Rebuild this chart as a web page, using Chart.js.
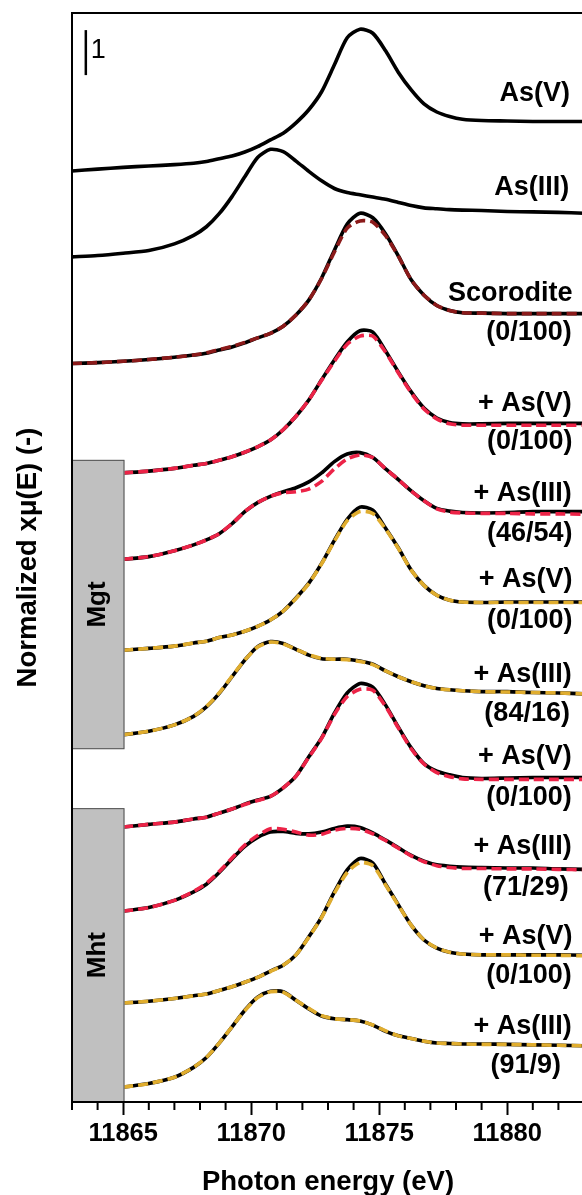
<!DOCTYPE html>
<html>
<head>
<meta charset="utf-8">
<title>As K-edge XANES</title>
<script src="https://cdn.jsdelivr.net/npm/chart.js@4.4.0/dist/chart.umd.min.js"></script>
<style>
  html, body { margin: 0; padding: 0; overflow: hidden; background: #fff; }
  #wrap { width: 584px; height: 1205px; }
</style>
</head>
<body>
<div id="wrap"><canvas id="xanes"></canvas></div>
<script>
// photon energy grid (eV)
const energy = [11863, 11864, 11865, 11866, 11867, 11867.75, 11868.25, 11868.75, 11869.25, 11869.75,
  11870.25, 11870.75, 11871.25, 11871.75, 11872.25, 11872.75, 11873.25, 11873.75, 11874.25, 11874.75,
  11875.25, 11875.75, 11876.25, 11876.75, 11877.25, 11877.75, 11878.25, 11879, 11880, 11881,
  11882, 11883, 11884];

// reference spectra (normalized, before stacking)
const asVStd = [0.00, 0.04, 0.08, 0.11, 0.14, 0.17, 0.21, 0.27, 0.33, 0.42, 0.54, 0.69, 0.84, 1.07, 1.36, 1.76,
  2.36, 2.96, 3.15, 3.06, 2.67, 2.19, 1.80, 1.49, 1.31, 1.21, 1.15, 1.12, 1.11, 1.10, 1.10, 1.10, 1.09];
const asIIIStd = [0.00, 0.03, 0.08, 0.14, 0.29, 0.48, 0.67, 0.96, 1.34, 1.78, 2.21, 2.39, 2.34, 2.13, 1.90, 1.69,
  1.52, 1.43, 1.38, 1.33, 1.28, 1.21, 1.14, 1.09, 1.07, 1.05, 1.04, 1.03, 1.01, 1.00, 0.99, 0.97, 0.96];
const scorodite = [0.00, 0.02, 0.05, 0.09, 0.14, 0.19, 0.23, 0.30, 0.37, 0.46, 0.57, 0.67, 0.83, 1.08, 1.41, 1.90,
  2.52, 3.10, 3.34, 3.24, 2.88, 2.39, 1.86, 1.52, 1.29, 1.18, 1.13, 1.12, 1.11, 1.11, 1.11, 1.11, 1.10];
const scoroditeFit = [0.00, 0.02, 0.05, 0.09, 0.14, 0.19, 0.24, 0.31, 0.38, 0.47, 0.57, 0.67, 0.83, 1.08, 1.41, 1.89,
  2.48, 3.01, 3.17, 3.14, 2.84, 2.38, 1.86, 1.52, 1.29, 1.18, 1.13, 1.12, 1.11, 1.11, 1.11, 1.11, 1.10];

// magnetite samples
const mgtA_AsV = [null, null, 0.00, 0.04, 0.10, 0.17, 0.21, 0.28, 0.36, 0.46, 0.58, 0.73, 0.96, 1.26, 1.62, 2.07,
  2.51, 2.91, 3.16, 3.13, 2.71, 2.24, 1.80, 1.44, 1.22, 1.12, 1.09, 1.09, 1.10, 1.10, 1.10, 1.10, 1.10];
const mgtA_AsVFit = [null, null, 0.00, 0.04, 0.10, 0.17, 0.21, 0.28, 0.36, 0.46, 0.58, 0.73, 0.96, 1.26, 1.62, 2.06,
  2.48, 2.86, 3.04, 3.04, 2.68, 2.22, 1.78, 1.42, 1.20, 1.09, 1.06, 1.06, 1.06, 1.06, 1.06, 1.06, 1.06];
const mgtA_AsIII = [null, null, 0.00, 0.06, 0.19, 0.32, 0.43, 0.57, 0.79, 1.06, 1.26, 1.40, 1.50, 1.59, 1.72, 1.92,
  2.17, 2.34, 2.37, 2.26, 2.01, 1.77, 1.52, 1.30, 1.13, 1.07, 1.04, 1.03, 1.04, 1.06, 1.06, 1.06, 1.06];
const mgtA_AsIIIFit = [null, null, 0.00, 0.06, 0.19, 0.32, 0.43, 0.57, 0.79, 1.06, 1.26, 1.40, 1.48, 1.50, 1.56, 1.73,
  2.01, 2.23, 2.32, 2.26, 2.01, 1.77, 1.52, 1.30, 1.12, 1.05, 1.03, 1.02, 1.02, 1.01, 1.01, 1.00, 1.00];
const mgtB_AsV = [null, null, 0.00, 0.04, 0.09, 0.16, 0.20, 0.28, 0.34, 0.42, 0.53, 0.67, 0.87, 1.16, 1.49, 1.93,
  2.44, 2.91, 3.18, 3.11, 2.71, 2.27, 1.78, 1.44, 1.22, 1.11, 1.07, 1.06, 1.07, 1.07, 1.07, 1.07, 1.07];
const mgtB_AsVFit = [null, null, 0.00, 0.04, 0.09, 0.16, 0.20, 0.28, 0.34, 0.42, 0.53, 0.67, 0.87, 1.15, 1.48, 1.92,
  2.42, 2.88, 3.08, 3.04, 2.69, 2.26, 1.78, 1.44, 1.22, 1.11, 1.07, 1.06, 1.06, 1.06, 1.06, 1.06, 1.06];
const mgtB_AsIII = [null, null, 0.00, 0.08, 0.22, 0.41, 0.62, 0.92, 1.29, 1.66, 1.96, 2.07, 2.03, 1.90, 1.77, 1.69,
  1.68, 1.68, 1.64, 1.57, 1.42, 1.29, 1.18, 1.09, 1.03, 1.00, 0.98, 0.96, 0.96, 0.94, 0.93, 0.91, 0.89];
const mgtB_AsIIIFit = [null, null, 0.00, 0.08, 0.22, 0.41, 0.63, 0.93, 1.30, 1.66, 1.95, 2.06, 2.02, 1.90, 1.78, 1.70,
  1.68, 1.67, 1.63, 1.56, 1.42, 1.29, 1.18, 1.09, 1.03, 1.00, 0.98, 0.96, 0.95, 0.94, 0.93, 0.91, 0.89];

// maghemite samples
const mhtA_AsV = [null, null, 0.00, 0.06, 0.11, 0.18, 0.22, 0.31, 0.40, 0.51, 0.60, 0.68, 0.87, 1.13, 1.56, 1.98,
  2.53, 2.98, 3.19, 3.11, 2.71, 2.22, 1.76, 1.41, 1.24, 1.16, 1.10, 1.08, 1.09, 1.10, 1.10, 1.10, 1.10];
const mhtA_AsVFit = [null, null, 0.00, 0.06, 0.11, 0.18, 0.22, 0.31, 0.40, 0.50, 0.59, 0.68, 0.87, 1.13, 1.55, 1.97,
  2.50, 2.90, 3.06, 3.04, 2.68, 2.20, 1.74, 1.40, 1.21, 1.12, 1.07, 1.06, 1.06, 1.06, 1.06, 1.06, 1.06];
const mhtA_AsIII = [null, null, 0.00, 0.08, 0.24, 0.43, 0.60, 0.86, 1.16, 1.44, 1.64, 1.76, 1.77, 1.73, 1.72, 1.76,
  1.84, 1.89, 1.86, 1.74, 1.58, 1.41, 1.24, 1.11, 1.03, 1.00, 0.98, 0.97, 0.96, 0.96, 0.94, 0.93, 0.91];
const mhtA_AsIIIFit = [null, null, 0.00, 0.08, 0.24, 0.44, 0.62, 0.88, 1.18, 1.47, 1.68, 1.83, 1.82, 1.76, 1.69, 1.71,
  1.80, 1.84, 1.82, 1.72, 1.57, 1.40, 1.23, 1.10, 1.01, 0.97, 0.95, 0.95, 0.94, 0.94, 0.93, 0.92, 0.91];
const mhtB_AsV = [null, null, 0.00, 0.04, 0.10, 0.16, 0.20, 0.28, 0.36, 0.46, 0.57, 0.71, 0.84, 1.07, 1.47, 1.91,
  2.47, 2.96, 3.21, 3.11, 2.64, 2.18, 1.73, 1.40, 1.22, 1.13, 1.09, 1.07, 1.07, 1.07, 1.07, 1.06, 1.05];
const mhtB_AsVFit = [null, null, 0.00, 0.04, 0.10, 0.16, 0.20, 0.28, 0.36, 0.46, 0.57, 0.70, 0.84, 1.07, 1.46, 1.90,
  2.44, 2.90, 3.12, 3.05, 2.62, 2.17, 1.73, 1.40, 1.22, 1.13, 1.09, 1.07, 1.07, 1.06, 1.06, 1.05, 1.05];
const mhtB_AsIII = [null, null, 0.00, 0.08, 0.22, 0.44, 0.66, 0.98, 1.34, 1.71, 2.00, 2.13, 2.12, 1.93, 1.74, 1.58,
  1.52, 1.50, 1.47, 1.38, 1.24, 1.14, 1.08, 1.02, 0.98, 0.97, 0.96, 0.96, 0.95, 0.94, 0.93, 0.92, 0.91];
const mhtB_AsIIIFit = [null, null, 0.00, 0.08, 0.22, 0.44, 0.66, 0.98, 1.34, 1.70, 1.99, 2.12, 2.11, 1.93, 1.75, 1.59,
  1.52, 1.50, 1.47, 1.38, 1.25, 1.14, 1.08, 1.02, 0.98, 0.97, 0.96, 0.95, 0.95, 0.94, 0.93, 0.92, 0.91];

// vertical stacking offsets, top to bottom
const stackOffsets = [20.69, 18.78, 16.41, 13.98, 12.06, 10.04, 8.16, 6.11, 4.24, 2.20, 0.33];

// labels on the right
const labelTexts = ['As(V)', 'As(III)', 'Scorodite', '(0/100)', '+ As(V)', '(0/100)', '+ As(III)', '(46/54)',
  '+ As(V)', '(0/100)', '+ As(III)', '(84/16)', '+ As(V)', '(0/100)', '+ As(III)', '(71/29)',
  '+ As(V)', '(0/100)', '+ As(III)', '(91/9)'];
const labelY = [22.42, 20.33, 17.96, 17.09, 15.53, 14.67, 13.53, 12.64, 11.6, 10.69, 9.51, 8.64,
  7.67, 6.76, 5.67, 4.76, 3.67, 2.82, 1.67, 0.82];
const labelRightE = [11882.45, 11882.42, 11882.55, 11882.52, 11882.52, 11882.55, 11882.52, 11882.55,
  11882.55, 11882.55, 11882.52, 11882.45, 11882.52, 11882.52, 11882.52, 11882.4,
  11882.55, 11882.52, 11882.52, 11882.1];

// mineral groups (grey boxes)
const groupNames = ['Mgt', 'Mht'];
const groupTop = [14.27, 6.53];
const groupBottom = [7.84, 0];
const groupEdgeE = 11865.05;

// axis ticks
const majorTicks = [11865, 11870, 11875, 11880];
const minorTicks = [11863, 11864, 11866, 11867, 11868, 11869, 11871, 11872, 11873, 11874,
  11876, 11877, 11878, 11879, 11881, 11882];

const RED = '#ec2347';
const YELLOW = '#e0ad2e';
const DARKRED = '#8b1a1a';

const spectra = [
  { name: 'As(V)', mu: asVStd, fit: null, color: null },
  { name: 'As(III)', mu: asIIIStd, fit: null, color: null },
  { name: 'Scorodite', mu: scorodite, fit: scoroditeFit, color: DARKRED },
  { name: 'Mgt + As(V)', mu: mgtA_AsV, fit: mgtA_AsVFit, color: RED },
  { name: 'Mgt + As(III)', mu: mgtA_AsIII, fit: mgtA_AsIIIFit, color: RED },
  { name: 'Mgt + As(V) b', mu: mgtB_AsV, fit: mgtB_AsVFit, color: YELLOW },
  { name: 'Mgt + As(III) b', mu: mgtB_AsIII, fit: mgtB_AsIIIFit, color: YELLOW },
  { name: 'Mht + As(V)', mu: mhtA_AsV, fit: mhtA_AsVFit, color: RED },
  { name: 'Mht + As(III)', mu: mhtA_AsIII, fit: mhtA_AsIIIFit, color: RED },
  { name: 'Mht + As(V) b', mu: mhtB_AsV, fit: mhtB_AsVFit, color: YELLOW },
  { name: 'Mht + As(III) b', mu: mhtB_AsIII, fit: mhtB_AsIIIFit, color: YELLOW }
];

function toPoints(values, offset) {
  return energy.map((e, i) => ({ x: e, y: values[i] === null ? null : values[i] + offset }));
}

const datasets = [];
spectra.forEach((s, k) => {
  datasets.push({
    label: s.name,
    data: toPoints(s.mu, stackOffsets[k]),
    borderColor: '#000',
    borderWidth: 3.6,
    order: 2
  });
  if (s.fit) {
    datasets.push({
      label: s.name + ' fit',
      data: toPoints(s.fit, stackOffsets[k]),
      borderColor: s.color,
      borderWidth: 3.6,
      borderDash: [10, 5],
      order: 1
    });
  }
});

const FONT = '"Liberation Sans", Arial, sans-serif';

// grey boxes, right-hand labels, scale bar, frame and minor ticks
const decor = {
  id: 'decor',
  afterDatasetsDraw(chart) {
    const { ctx, chartArea: area, scales: { x, y } } = chart;
    ctx.save();

    groupNames.forEach((name, i) => {
      const left = area.left;
      const right = x.getPixelForValue(groupEdgeE);
      const top = y.getPixelForValue(groupTop[i]);
      const bottom = y.getPixelForValue(groupBottom[i]);
      ctx.fillStyle = '#c0c0c0';
      ctx.fillRect(left, top, right - left, bottom - top);
      ctx.strokeStyle = '#505050';
      ctx.lineWidth = 1;
      ctx.strokeRect(left + 0.5, top + 0.5, right - left - 1, bottom - top - 1);
      ctx.save();
      ctx.translate((left + right) / 2, (top + bottom) / 2);
      ctx.rotate(-Math.PI / 2);
      ctx.fillStyle = '#000';
      ctx.font = 'bold 26px ' + FONT;
      ctx.textAlign = 'center';
      ctx.textBaseline = 'middle';
      ctx.fillText(name, 0, 0);
      ctx.restore();
    });

    ctx.fillStyle = '#000';
    ctx.font = 'bold 27px ' + FONT;
    ctx.textAlign = 'right';
    ctx.textBaseline = 'middle';
    labelTexts.forEach((t, i) => {
      ctx.fillText(t, x.getPixelForValue(labelRightE[i]), y.getPixelForValue(labelY[i]));
    });

    // scale bar: one unit of normalized absorption
    const bx = x.getPixelForValue(11863.54);
    ctx.strokeStyle = '#000';
    ctx.lineWidth = 2.5;
    ctx.beginPath();
    ctx.moveTo(bx, y.getPixelForValue(22.82));
    ctx.lineTo(bx, y.getPixelForValue(23.82));
    ctx.stroke();
    ctx.font = '27px ' + FONT;
    ctx.textAlign = 'left';
    ctx.fillText('1', bx + 5, y.getPixelForValue(23.37));
    ctx.restore();
  },
  afterDraw(chart) {
    const { ctx, chartArea: area, scales: { x } } = chart;
    ctx.save();
    ctx.strokeStyle = '#000';
    ctx.lineWidth = 2;
    ctx.strokeRect(area.left, area.top, area.right - area.left, area.bottom - area.top);
    minorTicks.forEach(e => {
      const px = x.getPixelForValue(e);
      ctx.beginPath();
      ctx.moveTo(px, area.bottom);
      ctx.lineTo(px, area.bottom + 8);
      ctx.stroke();
    });
    ctx.restore();
  }
};

new Chart(document.getElementById('xanes'), {
  type: 'line',
  data: { datasets: datasets },
  options: {
    responsive: true,
    maintainAspectRatio: false,
    animation: false,
    layout: { padding: { top: 13, left: 0, right: 0, bottom: 0 } },
    elements: {
      point: { radius: 0 },
      line: { tension: 0.25, borderCapStyle: 'butt' }
    },
    plugins: {
      legend: { display: false },
      tooltip: { enabled: false }
    },
    scales: {
      x: {
        type: 'linear',
        min: 11863,
        max: 11883,
        afterBuildTicks: scale => { scale.ticks = majorTicks.map(v => ({ value: v })); },
        afterFit: scale => { scale.height = 103; },
        border: { display: false },
        grid: {
          display: true,
          drawOnChartArea: false,
          drawTicks: true,
          tickLength: 13,
          tickWidth: 2,
          tickColor: '#000'
        },
        ticks: {
          autoSkip: false,
          maxRotation: 0,
          padding: 4,
          color: '#000',
          font: { family: FONT, size: 25.5, weight: 'bold' },
          callback: v => String(v)
        },
        title: {
          display: true,
          text: 'Photon energy (eV)',
          color: '#000',
          font: { family: FONT, size: 27.5, weight: 'bold' },
          padding: { top: 0, bottom: 6 }
        }
      },
      y: {
        type: 'linear',
        min: 0,
        max: 24.2,
        afterFit: scale => { scale.width = 72; },
        border: { display: false },
        grid: { display: false },
        ticks: { display: false },
        title: {
          display: true,
          text: 'Normalized xμ(E) (-)',
          color: '#000',
          font: { family: FONT, size: 27.5, weight: 'bold' },
          padding: { top: 12, bottom: 0 }
        }
      }
    }
  },
  plugins: [decor]
});
</script>
</body>
</html>
